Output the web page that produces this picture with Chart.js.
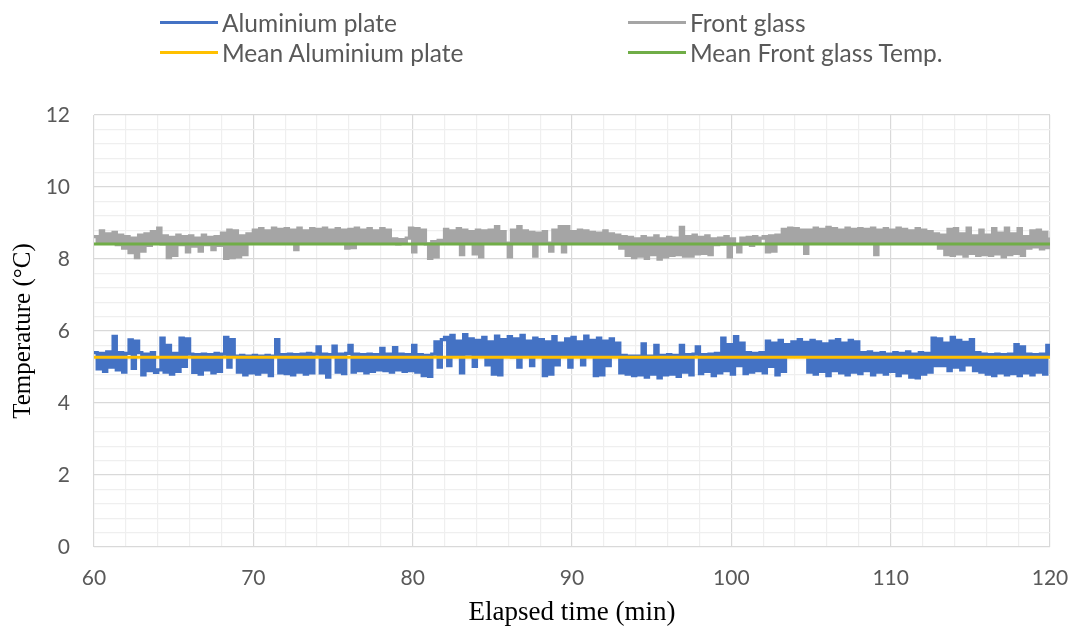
<!DOCTYPE html>
<html>
<head>
<meta charset="utf-8">
<title>Aluminium plate and front glass temperature</title>
<script src="https://cdn.jsdelivr.net/npm/chart.js@4.4.1/dist/chart.umd.min.js"></script>
<style>
  html, body { margin: 0; padding: 0; background: #ffffff; }
  #wrap { position: relative; width: 1077px; height: 633px; overflow: hidden; }
  #chart { position: absolute; left: 0; top: 0; }
  .legend-item { position: absolute; display: flex; align-items: center; height: 30px;
    font-family: Lato, "Open Sans", sans-serif; font-size: 24.5px; color: #595959; white-space: nowrap; }
  .legend-swatch { display: inline-block; width: 58px; height: 3px; margin-right: 4px; }
</style>
</head>
<body>
<div id="wrap">
  <canvas id="chart" width="1077" height="633"></canvas>
</div>
<script>
// Sampling: one reading every 0.2 min from 60 to 120 min
const startMin = 60;
const sampleStepMin = 0.2;

// Aluminium plate temperature (°C), readings in 2-minute rows
const aluminiumPlate = [
  5.40, 4.95, 5.38, 4.88, 5.42, 5.00, 5.85, 4.92, 5.40, 4.86,
  5.38, 5.75, 4.96, 5.72, 5.40, 4.78, 5.36, 4.90, 5.40, 4.85,
  4.92, 5.80, 4.86, 5.60, 4.80, 5.38, 4.88, 5.80, 5.02, 5.78,
  5.36, 4.85, 5.34, 4.80, 5.36, 4.92, 5.34, 4.84, 5.38, 4.88,
  5.36, 5.82, 5.00, 5.76, 5.30, 4.86, 5.32, 4.78, 5.30, 4.84,
  5.32, 4.80, 5.30, 4.86, 5.32, 4.76, 5.30, 5.76, 4.84, 5.34,
  4.82, 5.36, 4.78, 5.34, 4.86, 5.36, 4.80, 5.38, 4.84, 5.36,
  5.56, 4.84, 5.36, 4.72, 5.34, 5.58, 4.86, 5.36, 4.82, 5.38,
  5.60, 4.86, 5.36, 4.90, 5.34, 4.84, 5.36, 4.88, 5.34, 4.92,
  5.52, 4.90, 5.36, 4.86, 5.54, 4.92, 5.36, 4.88, 5.34, 4.90,
  5.60, 4.86, 5.34, 4.76, 5.32, 4.74, 5.36, 5.70, 5.00, 5.76,
  5.82, 5.04, 5.88, 5.30, 5.72, 4.84, 5.90, 5.36, 5.78, 5.02,
  5.74, 5.30, 5.82, 5.06, 5.70, 4.80, 5.86, 4.78, 5.76, 5.32,
  5.84, 5.28, 5.78, 5.00, 5.88, 5.34, 5.72, 5.04, 5.80, 5.30,
  5.76, 4.76, 5.70, 4.80, 5.84, 5.06, 5.66, 5.32, 5.78, 5.00,
  5.82, 5.30, 5.70, 5.06, 5.86, 5.34, 5.74, 4.76, 5.80, 4.78,
  5.72, 5.04, 5.78, 5.30, 5.66, 4.84, 5.32, 4.80, 5.30, 4.76,
  5.30, 4.78, 5.64, 4.72, 5.30, 4.80, 5.60, 4.70, 5.32, 4.78,
  5.34, 4.80, 5.32, 4.74, 5.60, 4.86, 5.34, 4.78, 5.36, 5.56,
  4.82, 5.34, 4.88, 5.36, 4.76, 5.38, 4.84, 5.80, 4.90, 5.62,
  4.80, 5.84, 5.04, 5.66, 4.82, 5.40, 4.86, 5.38, 4.90, 5.40,
  4.84, 5.72, 5.02, 5.66, 4.78, 5.74, 4.88, 5.62, 5.30, 5.70,
  5.34, 5.76, 5.30, 5.68, 4.86, 5.74, 4.80, 5.70, 4.88, 5.64,
  4.76, 5.72, 4.90, 5.76, 4.84, 5.66, 4.78, 5.74, 4.86, 5.70,
  4.82, 5.40, 4.90, 5.42, 4.78, 5.38, 4.86, 5.40, 4.80, 5.36,
  4.88, 5.40, 4.76, 5.38, 4.84, 5.42, 4.72, 5.36, 4.70, 5.40,
  4.80, 5.38, 4.86, 5.80, 5.04, 5.78, 5.04, 5.66, 4.90, 5.82,
  5.00, 5.74, 4.92, 5.68, 5.06, 5.76, 4.90, 5.40, 4.86, 5.36,
  4.80, 5.34, 4.76, 5.36, 4.84, 5.34, 4.78, 5.36, 4.82, 5.62,
  4.76, 5.56, 4.84, 5.36, 4.78, 5.34, 4.86, 5.36, 4.80, 5.60,
  5.30
];

// Front glass temperature (°C), readings in 2-minute rows
const frontGlass = [
  8.62, 8.46, 8.78, 8.44, 8.70, 8.48, 8.74, 8.40, 8.66, 8.30,
  8.62, 8.18, 8.58, 8.04, 8.66, 8.22, 8.70, 8.38, 8.76, 8.44,
  8.86, 8.42, 8.64, 8.04, 8.60, 8.10, 8.66, 8.40, 8.62, 8.20,
  8.64, 8.36, 8.58, 8.22, 8.66, 8.40, 8.60, 8.26, 8.62, 8.38,
  8.72, 8.02, 8.80, 8.04, 8.78, 8.06, 8.64, 8.12, 8.70, 8.46,
  8.80, 8.46, 8.84, 8.48, 8.78, 8.44, 8.86, 8.46, 8.82, 8.44,
  8.84, 8.46, 8.80, 8.26, 8.86, 8.48, 8.78, 8.44, 8.84, 8.46,
  8.82, 8.44, 8.86, 8.48, 8.80, 8.46, 8.84, 8.44, 8.80, 8.30,
  8.82, 8.32, 8.86, 8.46, 8.80, 8.44, 8.84, 8.48, 8.78, 8.46,
  8.84, 8.44, 8.80, 8.46, 8.56, 8.42, 8.54, 8.44, 8.58, 8.86,
  8.20, 8.84, 8.46, 8.80, 8.42, 8.02, 8.48, 8.06, 8.52, 8.44,
  8.82, 8.46, 8.78, 8.44, 8.84, 8.12, 8.80, 8.46, 8.76, 8.14,
  8.80, 8.06, 8.78, 8.46, 8.80, 8.44, 8.90, 8.46, 8.76, 8.44,
  8.06, 8.80, 8.44, 8.90, 8.46, 8.78, 8.44, 8.74, 8.08, 8.72,
  8.46, 8.76, 8.44, 8.22, 8.80, 8.44, 8.90, 8.20, 8.90, 8.46,
  8.76, 8.44, 8.80, 8.46, 8.78, 8.44, 8.74, 8.48, 8.72, 8.44,
  8.78, 8.46, 8.70, 8.44, 8.66, 8.30, 8.62, 8.10, 8.60, 8.04,
  8.56, 8.08, 8.62, 8.02, 8.58, 8.12, 8.64, 8.00, 8.56, 8.06,
  8.60, 8.10, 8.58, 8.12, 8.88, 8.08, 8.62, 8.08, 8.66, 8.14,
  8.60, 8.16, 8.64, 8.12, 8.56, 8.40, 8.58, 8.42, 8.62, 8.06,
  8.56, 8.40, 8.20, 8.58, 8.42, 8.60, 8.38, 8.62, 8.44, 8.58,
  8.62, 8.20, 8.64, 8.22, 8.66, 8.44, 8.82, 8.46, 8.86, 8.48,
  8.84, 8.46, 8.80, 8.16, 8.80, 8.48, 8.86, 8.46, 8.82, 8.44,
  8.88, 8.46, 8.84, 8.48, 8.80, 8.44, 8.86, 8.46, 8.82, 8.48,
  8.84, 8.46, 8.82, 8.44, 8.86, 8.12, 8.80, 8.48, 8.84, 8.46,
  8.80, 8.44, 8.86, 8.48, 8.82, 8.46, 8.78, 8.44, 8.84, 8.46,
  8.80, 8.44, 8.76, 8.46, 8.70, 8.30, 8.66, 8.12, 8.82, 8.10,
  8.84, 8.14, 8.70, 8.08, 8.86, 8.16, 8.64, 8.10, 8.80, 8.12,
  8.66, 8.10, 8.84, 8.14, 8.72, 8.06, 8.86, 8.12, 8.70, 8.16,
  8.84, 8.10, 8.62, 8.30, 8.78, 8.34, 8.80, 8.28, 8.74, 8.32,
  8.60
];

// Mean temperatures (°C)
const meanAluminiumPlate = 5.27;
const meanFrontGlass = 8.42;

// Axis ticks
const xTickLabels = [60, 70, 80, 90, 100, 110, 120];
const yTickLabels = [0, 2, 4, 6, 8, 10, 12];
const xMinorStep = 2;    // minutes between minor grid lines
const yMinorTenths = 4;  // 0.4 °C between minor grid lines

const times = aluminiumPlate.map((_, i) => Math.round((startMin + i * sampleStepMin) * 10) / 10);
const xRange = [xTickLabels[0], xTickLabels[xTickLabels.length - 1]];
const yRange = [yTickLabels[0], yTickLabels[yTickLabels.length - 1]];

const xGrid = [];
for (let v = xRange[0]; v <= xRange[1]; v += xMinorStep) xGrid.push(v);
const yGrid = [];
for (let k = yRange[0] * 10; k <= yRange[1] * 10; k += yMinorTenths) yGrid.push(k / 10);

const isLabelled = (list, v) => list.some(t => Math.abs(t - v) < 1e-6);

const series = [
  { label: 'Aluminium plate', values: aluminiumPlate, color: '#4472C4' },
  { label: 'Front glass', values: frontGlass, color: '#A5A5A5' }
];
const means = [
  { label: 'Mean Aluminium plate', value: meanAluminiumPlate, color: '#FFC000' },
  { label: 'Mean Front glass Temp.', value: meanFrontGlass, color: '#70AD47' }
];

const datasets = [
  ...series.map(s => ({
    label: s.label,
    data: times.map((t, i) => ({ x: t, y: s.values[i] })),
    borderColor: s.color,
    backgroundColor: s.color,
    borderWidth: 3.3,
    borderJoinStyle: 'miter',
    stepped: true,
    pointRadius: 0,
    fill: false,
    order: 1
  })),
  ...means.map(m => ({
    label: m.label,
    data: [{ x: xRange[0], y: m.value }, { x: xRange[1], y: m.value }],
    borderColor: m.color,
    backgroundColor: m.color,
    borderWidth: 3,
    pointRadius: 0,
    fill: false,
    order: 0
  }))
];

const tickFont = { family: 'Lato, "Open Sans", sans-serif', size: 21 };
const serif = '"Liberation Serif", "DejaVu Serif", serif';

new Chart(document.getElementById('chart'), {
  type: 'line',
  data: { datasets },
  options: {
    responsive: false,
    animation: false,
    events: [],
    layout: { padding: { left: 0, right: 27, top: 115, bottom: 0 } },
    plugins: { legend: { display: false }, tooltip: { enabled: false } },
    scales: {
      x: {
        type: 'linear',
        min: xRange[0],
        max: xRange[1],
        afterBuildTicks: axis => { axis.ticks = xGrid.map(v => ({ value: v })); },
        afterFit: axis => { axis.height = 86; axis.paddingLeft = 0; axis.paddingRight = 0; },
        grid: {
          drawTicks: false,
          lineWidth: 1.2,
          color: c => isLabelled(xTickLabels, c.tick.value) ? '#D9D9D9' : '#EFEFEF'
        },
        border: { display: false },
        ticks: {
          autoSkip: false,
          maxRotation: 0,
          padding: 19,
          color: '#595959',
          font: tickFont,
          callback: v => isLabelled(xTickLabels, v) ? String(v) : ''
        },
        title: {
          display: true,
          text: 'Elapsed time (min)',
          color: '#000000',
          font: { family: serif, size: 27 },
          padding: { top: 0, bottom: 4 }
        }
      },
      y: {
        min: yRange[0],
        max: yRange[1],
        afterBuildTicks: axis => { axis.ticks = yGrid.map(v => ({ value: v })); },
        afterFit: axis => { axis.width = 94; },
        grid: {
          drawTicks: false,
          lineWidth: 1.2,
          color: c => isLabelled(yTickLabels, c.tick.value) ? '#D9D9D9' : '#EFEFEF'
        },
        border: { display: false },
        ticks: {
          autoSkip: false,
          padding: 24,
          color: '#595959',
          font: tickFont,
          callback: v => isLabelled(yTickLabels, v) ? String(v) : ''
        },
        title: {
          display: true,
          text: 'Temperature (°C)',
          color: '#000000',
          font: { family: serif, size: 25 },
          padding: { top: 8, bottom: 0 }
        }
      }
    }
  }
});

// Two-column legend above the plot
const legendEntries = [
  { label: series[0].label, color: series[0].color, left: 160, top: 7 },
  { label: series[1].label, color: series[1].color, left: 628, top: 7 },
  { label: means[0].label, color: means[0].color, left: 160, top: 37 },
  { label: means[1].label, color: means[1].color, left: 628, top: 37 }
];
const wrap = document.getElementById('wrap');
legendEntries.forEach(e => {
  const item = document.createElement('div');
  item.className = 'legend-item';
  item.style.left = e.left + 'px';
  item.style.top = e.top + 'px';
  const sw = document.createElement('span');
  sw.className = 'legend-swatch';
  sw.style.background = e.color;
  const tx = document.createElement('span');
  tx.textContent = e.label;
  item.appendChild(sw);
  item.appendChild(tx);
  wrap.appendChild(item);
});
</script>
</body>
</html>
